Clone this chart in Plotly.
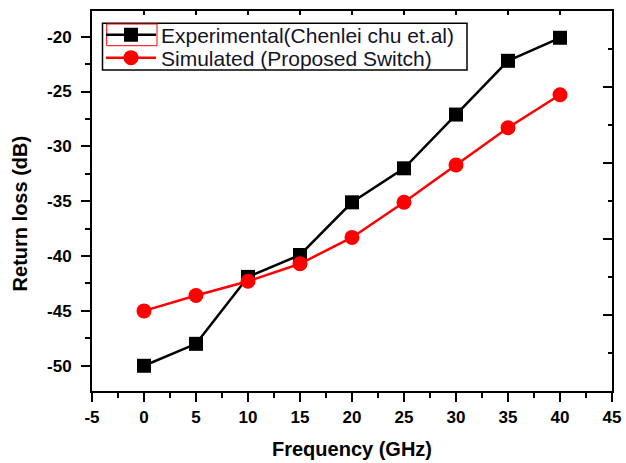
import plotly.graph_objects as go

freq = [0, 5, 10, 15, 20, 25, 30, 35, 40]
experimental = [-50.0, -48.0, -41.9, -39.9, -35.1, -32.0, -27.1, -22.2, -20.1]
simulated = [-45.0, -43.6, -42.3, -40.7, -38.3, -35.1, -31.7, -28.3, -25.3]
name_exp = "Experimental(Chenlei chu et.al)"
name_sim = "Simulated (Proposed Switch)"
x_title = "Frequency (GHz)"
y_title = "Return loss (dB)"
x_tickvals = [-5, 0, 5, 10, 15, 20, 25, 30, 35, 40, 45]
x_ticktext = ["-5", "0", "5", "10", "15", "20", "25", "30", "35", "40", "45"]
y_tickvals = [-50, -45, -40, -35, -30, -25, -20]
y_ticktext = ["-50", "-45", "-40", "-35", "-30", "-25", "-20"]

FONT = "Liberation Sans, Arial, sans-serif"
LEG_FONT = dict(family=FONT, size=21, color="#141428")

fig = go.Figure()
fig.add_trace(go.Scatter(
    x=freq, y=experimental, name=name_exp, mode="lines+markers", legend="legend",
    line=dict(color="black", width=2.5),
    marker=dict(symbol="square", size=14, color="black"),
))
fig.add_trace(go.Scatter(
    x=freq, y=simulated, name=name_sim, mode="lines+markers", legend="legend2",
    line=dict(color="#ff0000", width=2.5),
    marker=dict(symbol="circle", size=15, color="#ff0000"),
))
# empty trace to anchor mirror axes
fig.add_trace(go.Scatter(x=[], y=[], xaxis="x2", yaxis="y2", showlegend=False,
                         hoverinfo="skip"))

tickfont = dict(family=FONT, size=17, color="black", weight="bold")
minor_out = dict(dtick=2.5, tick0=0, ticks="outside", ticklen=5, tickwidth=2,
                 tickcolor="black", showgrid=False)
title_font = dict(family=FONT, size=20, color="black", weight="bold")

fig.update_layout(
    width=626, height=463,
    margin=dict(l=92, r=14, t=11, b=72, autoexpand=False),
    paper_bgcolor="white", plot_bgcolor="white",
    showlegend=True,
    legend=dict(
        x=0.0173, y=0.9368, xanchor="left", yanchor="middle",
        bgcolor="rgba(0,0,0,0)", borderwidth=0,
        font=LEG_FONT, itemwidth=50,
    ),
    legend2=dict(
        x=0.0173, y=0.8763, xanchor="left", yanchor="middle",
        bgcolor="rgba(0,0,0,0)", borderwidth=0,
        font=LEG_FONT, itemwidth=50,
    ),
    xaxis=dict(
        range=[-5, 45], tickmode="array", tickvals=x_tickvals, ticktext=x_ticktext,
        showgrid=False, zeroline=False,
        showline=True, linecolor="black", linewidth=2, automargin=False,
        ticks="outside", ticklen=9, tickwidth=2, tickcolor="black",
        minor=minor_out, tickfont=tickfont, ticklabelstandoff=1,
    ),
    yaxis=dict(
        range=[-52.3, -17.66], tickmode="array", tickvals=y_tickvals, ticktext=y_ticktext,
        showgrid=False, zeroline=False,
        showline=True, linecolor="black", linewidth=2, automargin=False,
        ticks="outside", ticklen=9, tickwidth=2, tickcolor="black",
        minor=minor_out, tickfont=tickfont, ticklabelstandoff=6,
    ),
    xaxis2=dict(
        overlaying="x", side="top", anchor="y2", range=[-5, 45], dtick=5, tick0=0,
        showgrid=False, zeroline=False, showticklabels=False, automargin=False,
        showline=True, linecolor="black", linewidth=2,
        ticks="inside", ticklen=4, tickwidth=2, tickcolor="black",
    ),
    yaxis2=dict(
        overlaying="y", side="right", anchor="x2", range=[0, 5], dtick=1, tick0=0,
        showgrid=False, zeroline=False, showticklabels=False, automargin=False,
        showline=True, linecolor="black", linewidth=2,
        ticks="inside", ticklen=9, tickwidth=2, tickcolor="black",
        minor=dict(dtick=0.5, ticks="inside", ticklen=4, tickwidth=2, tickcolor="black", showgrid=False),
    ),
    annotations=[
        dict(text=x_title, x=0.5, y=-0.1526, xref="paper", yref="paper",
             xanchor="center", yanchor="middle", showarrow=False, font=title_font),
        dict(text=y_title, x=-0.138, y=0.468, xref="paper", yref="paper",
             xanchor="center", yanchor="middle", showarrow=False, textangle=-90,
             font=title_font),
    ],
    shapes=[
        # legend frame
        dict(type="rect", xref="paper", yref="paper",
             x0=(102.5 - 92) / 520, x1=(467 - 92) / 520,
             y0=(391 - 70) / 380, y1=(391 - 23.3) / 380,
             line=dict(color="black", width=1.5), fillcolor="white", layer="above"),
        # red box around first legend symbol
        dict(type="rect", xref="paper", yref="paper",
             x0=(106.7 - 92) / 520, x1=(157 - 92) / 520,
             y0=(391 - 45.7) / 380, y1=(391 - 24) / 380,
             line=dict(color="#ff0000", width=1), layer="above"),
    ],
)

fig.write_html("out.html",
               config={"displayModeBar": False},
               post_script="document.body.style.margin='0';document.body.style.overflow='hidden';")
